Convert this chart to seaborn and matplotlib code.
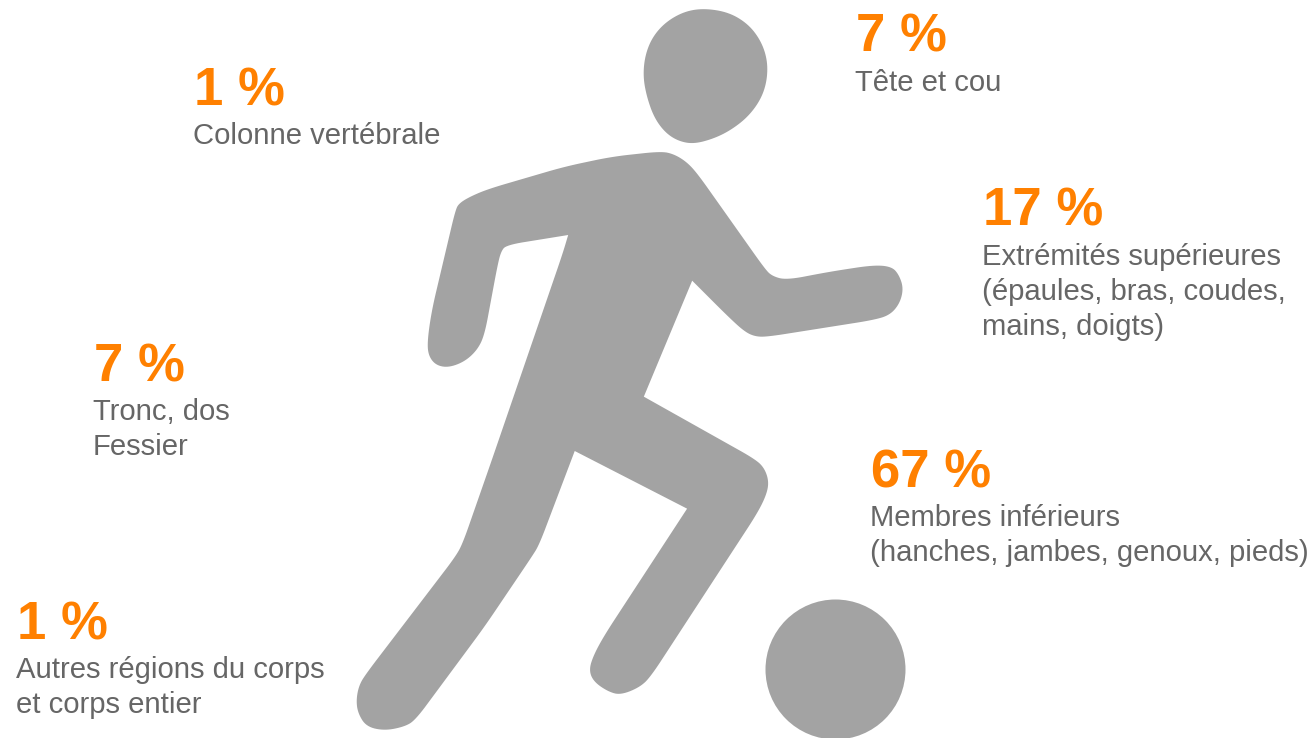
import numpy as np
import pandas as pd
import matplotlib
matplotlib.use("Agg")
import matplotlib.pyplot as plt
import seaborn as sns

percent_labels = ["1 %", "7 %", "17 %", "7 %", "67 %", "1 %"]
region_lines = [
    ["Colonne vertébrale"],
    ["Tête et cou"],
    ["Extrémités supérieures", "(épaules, bras, coudes,", "mains, doigts)"],
    ["Tronc, dos", "Fessier"],
    ["Membres inférieurs", "(hanches, jambes, genoux, pieds)"],
    ["Autres régions du corps", "et corps entier"],
]
label_x = [193, 855, 982, 93, 870, 16]
percent_y = [105, 52, 225, 382, 487, 639]
first_line_y = [144, 91, 265, 420, 526, 678]
line_step = 35

# outlines, in zoom units
head_outline = [(975, 25), (1042, 37), (1095, 72), (1130, 122), (1148, 180), (1147, 242),
                (1130, 298), (1095, 350), (1048, 390), (1000, 416), (945, 432), (902, 423),
                (866, 397), (836, 352), (816, 290), (806, 230), (811, 168), (831, 112),
                (868, 66), (920, 34)]
body_upper_right = [(855, 454), (890, 462), (925, 485), (955, 520), (1140, 805), (1160, 828),
                    (1200, 840), (1320, 815), (1440, 795), (1490, 800), (1510, 825), (1522, 865),
                    (1512, 910), (1485, 945), (1440, 960), (1150, 1010), (1115, 1010), (1085, 995),
                    (1040, 950), (941, 842), (941, 842), (941, 842)]
body_lower = [(808, 80), (808, 80), (808, 80), (1115, 268), (1140, 295), (1152, 335), (1145, 375),
              (1120, 430), (830, 915), (800, 950), (745, 975), (710, 965), (670, 935), (657, 900),
              (670, 855), (700, 795), (927, 416), (927, 416), (927, 416), (618, 243), (618, 243),
              (618, 243), (520, 525), (500, 560), (370, 770), (180, 1050), (150, 1070), (95, 1082),
              (45, 1070), (22, 1030), (17, 990), (25, 945), (45, 910), (290, 560), (310, 520),
              (390, 270)]
body_upper_left = [(585, 760), (600, 705), (600, 705), (600, 705), (430, 735), (415, 755), (405, 800),
                   (370, 1005), (350, 1050), (315, 1085), (270, 1103), (235, 1095), (215, 1065),
                   (213, 1020), (225, 930), (290, 630), (300, 610), (330, 590), (380, 567),
                   (590, 500), (720, 470)]


def to_pixels(points, top):
    pts = np.array(points, dtype=float)
    return np.column_stack([350 + pts[:, 0] / 2.75, top + pts[:, 1] / 3])


def smooth(pts, rounds=3, cut=9.0):
    # corner cutting with a capped length, long straight edges stay straight
    for _ in range(rounds):
        nxt = np.roll(pts, -1, axis=0)
        seg = np.linalg.norm(nxt - pts, axis=1, keepdims=True)
        t = np.minimum(0.25, cut / np.maximum(seg, 1e-6))
        pts = np.column_stack([pts + t * (nxt - pts), nxt - t * (nxt - pts)]).reshape(-1, 2)
        cut /= 2
    return pts


sns.set_theme(style="white")
plt.rcParams["font.family"] = ["Liberation Sans", "DejaVu Sans"]

fig, ax = plt.subplots(figsize=(13.16, 7.38), dpi=100)
ax.set_position([0, 0, 1, 1])

figure_gray = "#a3a3a3"
head = smooth(to_pixels(head_outline, 0))
body = smooth(np.vstack([to_pixels(body_upper_right, 0), to_pixels(body_lower, 370),
                         to_pixels(body_upper_left, 0)]))
ax.fill(head[:, 0], head[:, 1], color=figure_gray, lw=0)
ax.fill(body[:, 0], body[:, 1], color=figure_gray, lw=0)

ball = pd.DataFrame({"x": [835], "y": [669]})
sns.scatterplot(data=ball, x="x", y="y", s=(140 * 0.72) ** 2, color=figure_gray, linewidth=0, ax=ax)

for x, pct, py, lines, ly in zip(label_x, percent_labels, percent_y, region_lines, first_line_y):
    ax.text(x + 1, py, pct, color="#ff8000", fontsize=38, fontweight="bold", va="baseline")
    for i, line in enumerate(lines):
        ax.text(x, ly + i * line_step, line, color="#666666", fontsize=21.1, va="baseline")

ax.set_xlim(0, 1316)
ax.set_ylim(738, 0)
ax.set_xlabel("")
ax.set_ylabel("")
ax.axis("off")

fig.savefig("out.png", dpi=100)
